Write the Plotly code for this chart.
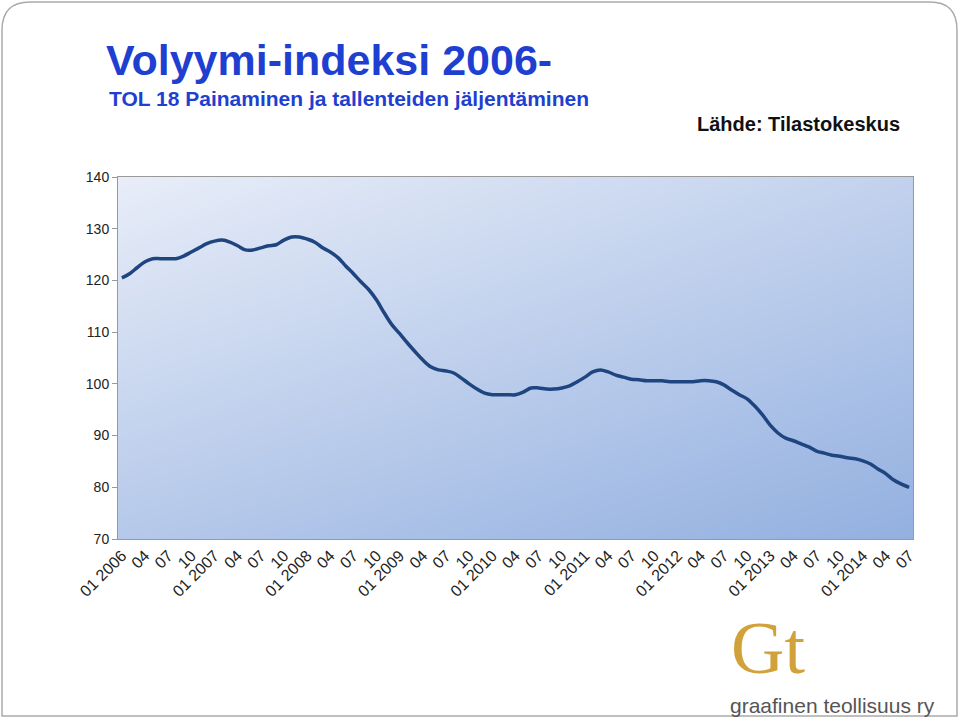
import plotly.graph_objects as go

# monthly volume index, 01 2006 .. 07 2014
values = [
    120.5, 121.3, 122.5, 123.6, 124.2, 124.2, 124.2, 124.2, 124.7, 125.5, 126.3, 127.1,
    127.6, 127.8, 127.4, 126.7, 125.9, 125.9, 126.3, 126.7, 126.9, 127.8, 128.4, 128.4,
    128.0, 127.4, 126.3, 125.5, 124.4, 122.8, 121.3, 119.7, 118.2, 116.2, 113.7, 111.4,
    109.7, 107.9, 106.2, 104.6, 103.3, 102.7, 102.5, 102.1, 101.1, 100.0, 99.0, 98.2,
    97.9, 97.9, 97.9, 97.9, 98.4, 99.2, 99.2, 99.0, 99.0, 99.2, 99.6, 100.4,
    101.3, 102.3, 102.7, 102.3, 101.7, 101.3, 100.9, 100.8, 100.6, 100.6, 100.6, 100.4,
    100.4, 100.4, 100.4, 100.6, 100.6, 100.4, 99.8, 98.8, 97.9, 97.1, 95.7, 94.0,
    92.0, 90.5, 89.5, 89.0, 88.4, 87.8, 87.0, 86.6, 86.2, 86.0, 85.7, 85.5,
    85.1, 84.5, 83.5, 82.6, 81.4, 80.6, 80.0,
]
months = list(range(len(values)))

tick_vals = list(range(0, len(values), 3))
tick_text = []
for i in tick_vals:
    m = i % 12 + 1
    tick_text.append(f"01 {2006 + i // 12}" if m == 1 else f"{m:02d}")

W, H, L, R, T, B = 960, 717, 118, 47, 177, 178
pw, ph = W - L - R, H - T - B


def px(x):
    return (x - L) / pw


def py(y):
    return (H - B - y) / ph


fig = go.Figure()

# gradient background for the plot area
fig.add_trace(go.Heatmap(
    x=[0, 1], y=[0, 1], z=[[0.6, 1.0], [0.0, 0.45]],
    colorscale=[[0, "#e8edf8"], [1, "#93b0e0"]],
    zsmooth="best", showscale=False, hoverinfo="skip",
))

fig.add_trace(go.Scatter(
    x=months, y=values, mode="lines", xaxis="x2", yaxis="y2",
    line=dict(color="#1f4580", width=3.5, shape="spline"),
    showlegend=False,
))

texts = [
    ("<b>Volyymi-indeksi 2006-</b>", 104, 60, "left", 43, "#1f3fd1", "Liberation Sans"),
    ("<b>TOL 18 Painaminen ja tallenteiden jäljentäminen</b>", 107, 98, "left", 21, "#1f3fd1", "Liberation Sans"),
    ("<b>Lähde: Tilastokeskus</b>", 902, 124, "right", 20, "#111", "Liberation Sans"),
    ("Gt", 768, 648, "center", 74, "#d2a23a", "Liberation Serif"),
    ("graafinen teollisuus ry", 832, 705, "center", 21, "#555", "Liberation Sans"),
]

fig.update_layout(
    width=W, height=H,
    paper_bgcolor="white", plot_bgcolor="white",
    margin=dict(l=L, r=R, t=T, b=B),
    font=dict(family="Liberation Sans, Arial", color="#222"),
    xaxis=dict(range=[0, 1], visible=False, fixedrange=True),
    yaxis=dict(range=[0, 1], visible=False, fixedrange=True),
    xaxis2=dict(overlaying="x", side="bottom", range=[-0.5, 102.5],
                tickvals=tick_vals, ticktext=tick_text, tickangle=-45,
                tickfont=dict(size=16), showgrid=False, zeroline=False,
                showline=True, linecolor="#999", mirror=True, ticks=""),
    yaxis2=dict(overlaying="y", side="left", range=[70, 140], dtick=10,
                tickfont=dict(size=14), showgrid=False, zeroline=False,
                showline=True, linecolor="#999", mirror=True,
                ticks="outside", ticklen=5, tickcolor="#999"),
    annotations=[
        dict(text=t, x=px(x), y=py(y), xref="paper", yref="paper", showarrow=False,
             xanchor=anc, yanchor="middle", font=dict(size=s, color=c, family=f))
        for t, x, y, anc, s, c, f in texts
    ],
    # rounded page frame
    shapes=[dict(
        type="path", xref="paper", yref="paper", line=dict(color="#aaa", width=1.5),
        path=f"M {px(30)},{py(2)} L {px(930)},{py(2)} Q {px(957)},{py(2)} {px(957)},{py(30)} "
             f"L {px(957)},{py(716)} L {px(2)},{py(716)} L {px(2)},{py(30)} "
             f"Q {px(2)},{py(2)} {px(30)},{py(2)} Z",
    )],
)

fig.write_html("out.html", config={"displayModeBar": False})
with open("out.html", encoding="utf-8") as fh:
    page = fh.read()
page = page.replace("<body>", '<body style="margin:0">', 1)
with open("out.html", "w", encoding="utf-8") as fh:
    fh.write(page)
